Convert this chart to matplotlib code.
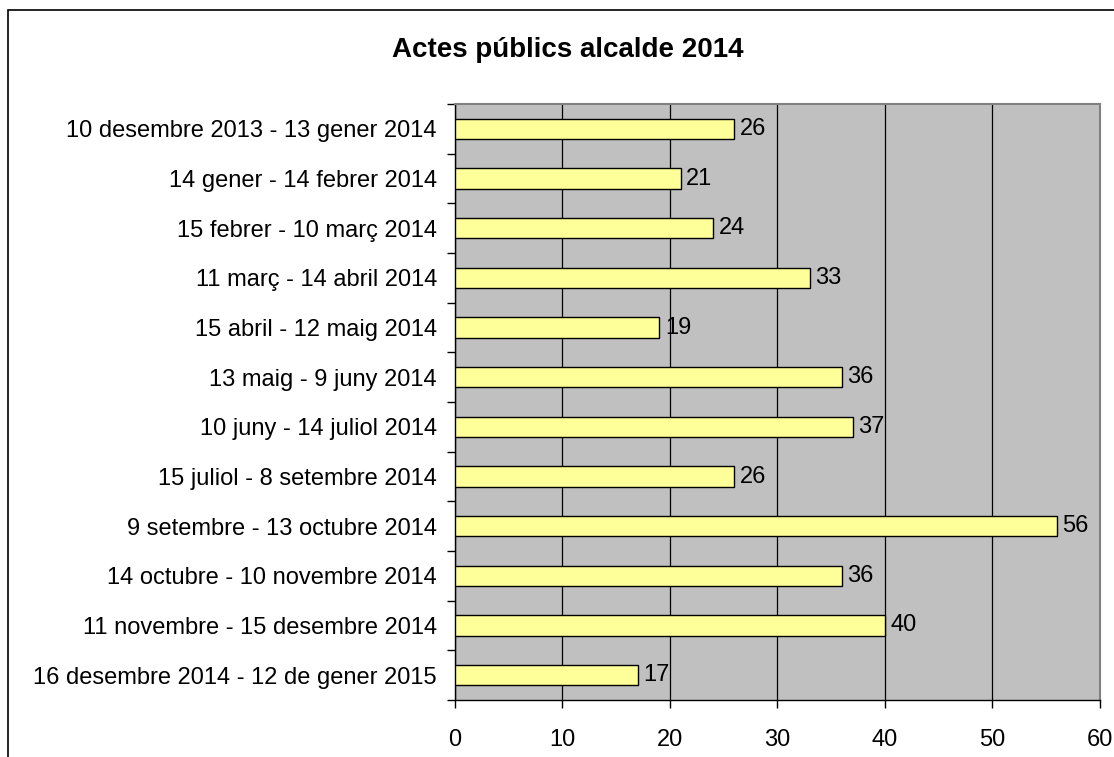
import matplotlib
matplotlib.use('Agg')
import matplotlib.pyplot as plt
import numpy as np

periods = [
    '10 desembre 2013 - 13 gener 2014',
    '14 gener - 14 febrer 2014',
    '15 febrer - 10 març 2014',
    '11 març - 14 abril 2014',
    '15 abril - 12 maig 2014',
    '13 maig - 9 juny 2014',
    '10 juny - 14 juliol 2014',
    '15 juliol - 8 setembre 2014',
    '9 setembre - 13 octubre 2014',
    '14 octubre - 10 novembre 2014',
    '11 novembre - 15 desembre 2014',
    '16 desembre 2014 - 12 de gener 2015',
]
actes = [26, 21, 24, 33, 19, 36, 37, 26, 56, 36, 40, 17]
xticks = [0, 10, 20, 30, 40, 50, 60]

plt.rcParams['font.family'] = ['Liberation Sans', 'DejaVu Sans']

fig = plt.figure(figsize=(11.14, 7.57), dpi=100)
ax = fig.add_axes([0.4084, 0.0753, 0.5790, 0.7873])

# outer chart border (only top/left visible, rest is cropped)
fig.add_artist(plt.Rectangle((8/1114, -0.1), 2, 1.1 - 10/757, transform=fig.transFigure,
                             fill=False, edgecolor='black', lw=1.2))

y = np.arange(len(periods))
ax.set_facecolor('#c0c0c0')
ax.barh(y, actes, height=0.41, color='#ffff99', edgecolor='black', lw=1, zorder=3)
for yi, v in zip(y, actes):
    ax.annotate(str(v), (v, yi), xytext=(4, 0), textcoords='offset points',
                va='center', ha='left', fontsize=17)

ax.set_xlim(0, 60)
ax.set_ylim(len(periods) - 0.5, -0.5)
ax.set_xticks(xticks)
ax.set_xticklabels([str(t) for t in xticks], fontsize=17)
ax.set_yticks(y)
ax.set_yticklabels(periods, fontsize=17)
ax.set_yticks(np.arange(len(periods) + 1) - 0.5, minor=True)
ax.tick_params(axis='y', which='major', length=0, pad=13)
ax.tick_params(axis='y', which='minor', length=6, direction='out', width=1)
ax.tick_params(axis='x', which='major', length=6, direction='out', width=1, pad=15)
ax.xaxis.grid(True, color='black', lw=0.9, zorder=1)
ax.set_axisbelow(True)

for s in ['top', 'right']:
    ax.spines[s].set_color('#808080')
    ax.spines[s].set_linewidth(1.5)
for s in ['left', 'bottom']:
    ax.spines[s].set_color('black')
    ax.spines[s].set_linewidth(1)

fig.text(0.51, 0.934, 'Actes públics alcalde 2014', ha='center', va='center',
         fontsize=20, fontweight='bold')

plt.savefig('out.png', dpi=100)
